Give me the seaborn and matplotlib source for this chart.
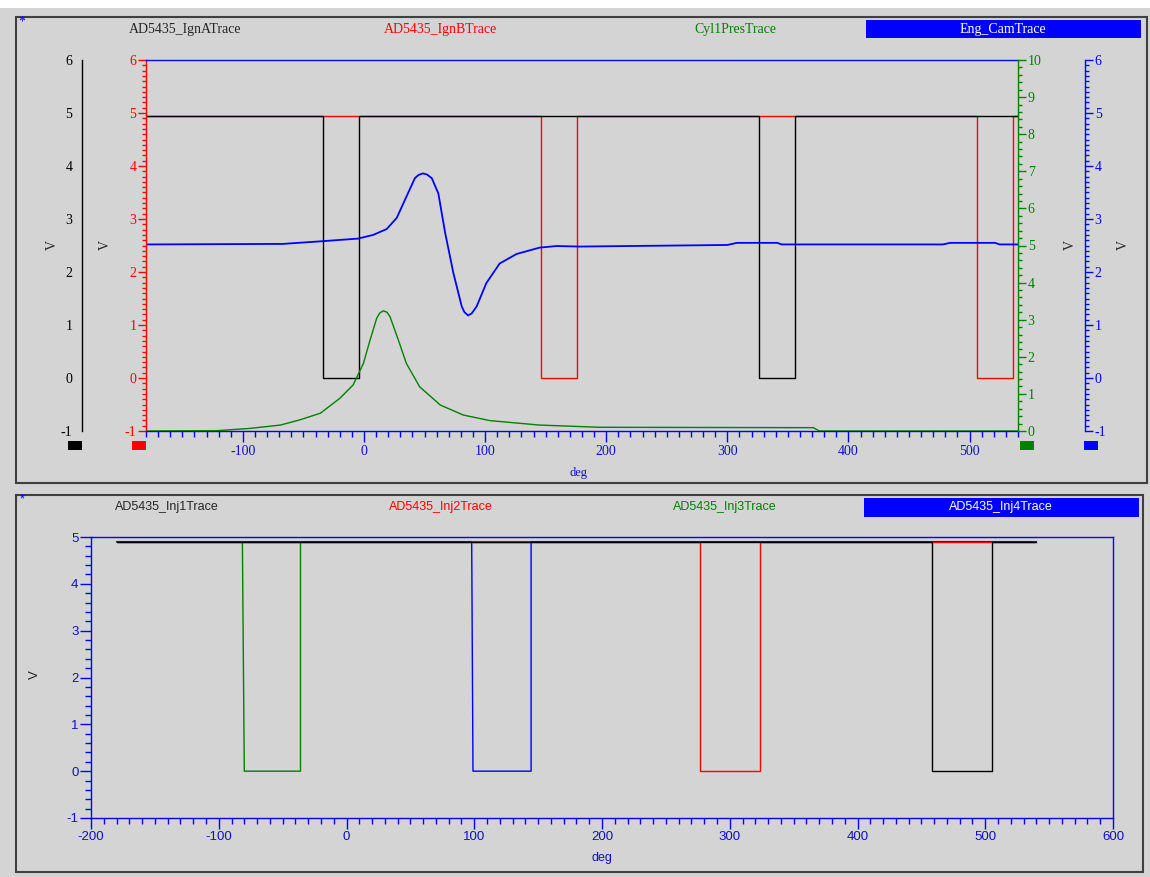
import numpy as np
import matplotlib
matplotlib.use("Agg")
import matplotlib.pyplot as plt
from matplotlib.patches import Rectangle
from matplotlib.ticker import MultipleLocator
import seaborn as sns

BG = '#d4d4d4'
BLUE = '#0000ff'
TXTBLUE = '#1010c8'
RED = '#ff0000'
GREEN = '#008000'

# ---- data ----
# top panel (deg, V)
ign_a_high = 4.94
ign_a_low = [(-34, -4), (326, 356)]          # low pulses of AD5435_IgnATrace
ign_b_high = 4.94
ign_b_low = [(146, 176), (506, 536)]         # low pulses of AD5435_IgnBTrace

cam_deg = [-180, -67, -35, -5, 7.6, 18.7, 27, 35, 42, 45, 48.5, 52, 56, 61.4, 67,
           73.8, 80.7, 83, 86, 89, 93, 101, 112, 126, 145, 159, 178, 300, 308,
           341, 345, 478, 484, 521, 525, 540]
cam_v = [2.52, 2.53, 2.58, 2.63, 2.70, 2.81, 3.02, 3.42, 3.77, 3.83, 3.86, 3.84,
         3.77, 3.48, 2.74, 1.98, 1.35, 1.24, 1.18, 1.22, 1.35, 1.79, 2.16, 2.34,
         2.46, 2.49, 2.48, 2.51, 2.55, 2.55, 2.52, 2.52, 2.55, 2.55, 2.52, 2.52]

pres_deg = [-180, -121, -94, -69, -53, -36, -20, -9, -0.5, 5, 10.5, 13, 16, 19,
            21.5, 28.4, 35, 46, 63, 82, 104, 145, 195, 371, 376, 540]
pres_val = [0.0, 0.01, 0.07, 0.16, 0.30, 0.48, 0.88, 1.24, 1.82, 2.45, 3.04, 3.18,
            3.24, 3.20, 3.08, 2.45, 1.82, 1.19, 0.70, 0.43, 0.28, 0.16, 0.10,
            0.09, 0.0, 0.0]

# bottom panel injector pulses: (fall at top, fall at bottom, rise at bottom, rise at top)
inj_high = 4.90
inj1_low = [(458, 458, 505, 505)]
inj2_low = [(277, 277, 324, 324)]
inj3_low = [(-81.5, -80, -36, -36)]
inj4_low = [(98, 99, 144.5, 144.5)]

top_xticks = [-100, 0, 100, 200, 300, 400, 500]
top_yticks = [-1, 0, 1, 2, 3, 4, 5, 6]
pres_ticks = [0, 1, 2, 3, 4, 5, 6, 7, 8, 9, 10]
bot_xticks = [-200, -100, 0, 100, 200, 300, 400, 500, 600]
bot_yticks = [-1, 0, 1, 2, 3, 4, 5]


def square(lows, hi, start=-180, end=540):
    xs, ys = [start], [hi]
    for p in lows:
        if len(p) == 2:
            p = (p[0], p[0], p[1], p[1])
        xs += [p[0], p[1], p[2], p[3]]
        ys += [hi, 0, 0, hi]
    xs.append(end)
    ys.append(hi)
    return np.array(xs, float), np.array(ys, float)


sns.set_style("white", rc={'axes.facecolor': BG, 'figure.facecolor': BG})
plt.rcParams['font.family'] = ['Liberation Serif', 'DejaVu Sans']

W, H = 1150, 877
fig = plt.figure(figsize=(W / 100, H / 100), dpi=100)


def fx(px):
    return px / W


def fy(py):
    return 1 - py / H


def rect(x0, y0, x1, y1, **kw):
    fig.add_artist(Rectangle((fx(x0), fy(y1)), (x1 - x0) / W, (y1 - y0) / H,
                             transform=fig.transFigure, **kw))


rect(0, 0, W, 8, facecolor='white', edgecolor='none')
rect(16, 17, 1147, 483, fill=False, edgecolor='#404040', lw=1.5)
rect(16, 495, 1143, 872, fill=False, edgecolor='#404040', lw=1.5)

SERIF = 'Liberation Serif'
SANS = 'Liberation Sans'

# ---------------- top panel ----------------
ax = fig.add_axes([fx(146), fy(431), 872 / W, 371 / H])
axg = ax.twinx()

x, y = square(ign_b_low, ign_b_high)
sns.lineplot(x=x, y=y, ax=ax, color=RED, lw=1, estimator=None, sort=False)
x, y = square(ign_a_low, ign_a_high)
sns.lineplot(x=x, y=y, ax=ax, color='black', lw=1, estimator=None, sort=False)
sns.lineplot(x=cam_deg, y=cam_v, ax=ax, color=BLUE, lw=1.3, estimator=None, sort=False)
sns.lineplot(x=pres_deg, y=pres_val, ax=axg, color=GREEN, lw=1, estimator=None, sort=False)

ax.set_xlim(-180, 540)
ax.set_ylim(-1, 6)
axg.set_ylim(0, 10)
ax.set_xlabel('')
ax.set_ylabel('')
axg.set_ylabel('')

ax.set_xticks(top_xticks, [str(t) for t in top_xticks], fontfamily=SERIF)
ax.set_yticks(top_yticks, [str(t) for t in top_yticks], fontfamily=SERIF)
axg.set_yticks(pres_ticks, [str(t) for t in pres_ticks], fontfamily=SERIF)
ax.xaxis.set_minor_locator(MultipleLocator(10))
ax.yaxis.set_minor_locator(MultipleLocator(0.1))
axg.yaxis.set_minor_locator(MultipleLocator(0.2))

for s in ax.spines.values():
    s.set_visible(True)
    s.set_linewidth(1)
for s in axg.spines.values():
    s.set_visible(False)
axg.spines['right'].set_visible(True)
axg.spines['right'].set_color(GREEN)
axg.spines['right'].set_linewidth(1)
ax.spines['top'].set_color(BLUE)
ax.spines['bottom'].set_color(BLUE)
ax.spines['left'].set_color(RED)
ax.spines['right'].set_visible(False)

ax.tick_params(axis='x', which='major', direction='out', length=8, width=1,
               color=BLUE, labelcolor=TXTBLUE, labelsize=10, pad=2, bottom=True, top=False)
ax.tick_params(axis='x', which='minor', direction='out', length=4, width=1,
               color=BLUE, bottom=True, top=False)
ax.tick_params(axis='y', which='major', direction='out', length=6, width=1,
               color=RED, labelcolor=RED, labelsize=10, pad=1, left=True, right=False)
ax.tick_params(axis='y', which='minor', direction='out', length=3, width=1,
               color=RED, left=True, right=False)
axg.tick_params(axis='y', which='major', direction='out', length=6, width=1,
                color=GREEN, labelcolor=GREEN, labelsize=10, pad=1)
axg.tick_params(axis='y', which='minor', direction='out', length=3, width=1, color=GREEN)

# extra scales: far-left black, far-right blue
for pos, col, side in [(82, 'black', 'left'), (1085, BLUE, 'right')]:
    left = pos if side == 'left' else pos - 1
    a = fig.add_axes([fx(left), fy(431), 1 / W, 371 / H])
    a.set_facecolor('none')
    for s in a.spines.values():
        s.set_visible(False)
    a.spines[side].set_visible(True)
    a.spines[side].set_color(col)
    a.spines[side].set_linewidth(1)
    a.set_ylim(-1, 6)
    a.set_xticks([])
    if side == 'right':
        a.yaxis.tick_right()
    a.set_yticks(top_yticks, [str(t) for t in top_yticks], fontfamily=SERIF)
    a.yaxis.set_minor_locator(MultipleLocator(0.1))
    a.tick_params(axis='y', which='major', direction='out', length=6, width=1,
                  color=col, labelcolor=col, labelsize=10, pad=1)
    a.tick_params(axis='y', which='minor', direction='out', length=3, width=1, color=col)

fig.text(fx(578), fy(473), 'deg', color=TXTBLUE, fontsize=9, ha='center', va='center', family=SERIF)
for xp in [52, 105, 1070, 1123]:
    fig.text(fx(xp), fy(245), 'V', rotation=90, fontsize=10, ha='center', va='center', family=SERIF)

for xp, col in [(68, 'black'), (132, RED), (1020, GREEN), (1084, BLUE)]:
    rect(xp, 441, xp + 14, 450, facecolor=col, edgecolor='none')

fig.text(fx(22), fy(22), '*', color=BLUE, fontsize=10, ha='center', va='center', family=SERIF)
fig.text(fx(185), fy(29), 'AD5435_IgnATrace', fontsize=10, ha='center', va='center', family=SERIF)
fig.text(fx(440), fy(29), 'AD5435_IgnBTrace', color=RED, fontsize=10, ha='center', va='center', family=SERIF)
fig.text(fx(735), fy(29), 'Cyl1PresTrace', color=GREEN, fontsize=10, ha='center', va='center', family=SERIF)
rect(866, 20, 1141, 38, facecolor=BLUE, edgecolor='none')
fig.text(fx(1003), fy(29), 'Eng_CamTrace', color='white', fontsize=10, ha='center', va='center', family=SERIF)

# ---------------- bottom panel ----------------
ax2 = fig.add_axes([fx(91), fy(818), 1022 / W, 281 / H])
for lows, col in [(inj3_low, GREEN), (inj4_low, BLUE), (inj2_low, RED), (inj1_low, 'black')]:
    x, y = square(lows, inj_high)
    sns.lineplot(x=x, y=y, ax=ax2, color=col, lw=1, estimator=None, sort=False)

ax2.set_xlim(-200, 600)
ax2.set_ylim(-1, 5)
ax2.set_xlabel('')
ax2.set_ylabel('')
ax2.set_xticks(bot_xticks, [str(t) for t in bot_xticks], fontfamily=SANS)
ax2.set_yticks(bot_yticks, [str(t) for t in bot_yticks], fontfamily=SANS)
ax2.xaxis.set_minor_locator(MultipleLocator(10))
ax2.yaxis.set_minor_locator(MultipleLocator(0.2))
for s in ax2.spines.values():
    s.set_visible(True)
    s.set_color(BLUE)
    s.set_linewidth(1)
ax2.tick_params(axis='both', which='major', direction='out', length=8, width=1,
                color=BLUE, labelcolor=TXTBLUE, labelsize=9.5, pad=1,
                top=False, right=False, bottom=True, left=True)
ax2.tick_params(axis='both', which='minor', direction='out', length=4, width=1,
                color=BLUE, top=False, right=False, bottom=True, left=True)

fig.text(fx(602), fy(858), 'deg', color=TXTBLUE, fontsize=9, ha='center', va='center', family=SANS)
fig.text(fx(35), fy(675), 'V', rotation=90, fontsize=9.5, ha='center', va='center', family=SANS)

fig.text(fx(22), fy(499), '*', color=BLUE, fontsize=9, ha='center', va='center', family=SANS)
fig.text(fx(167), fy(507), 'AD5435_Inj1Trace', fontsize=9, ha='center', va='center', family=SANS)
fig.text(fx(441), fy(507), 'AD5435_Inj2Trace', color=RED, fontsize=9, ha='center', va='center', family=SANS)
fig.text(fx(725), fy(507), 'AD5435_Inj3Trace', color=GREEN, fontsize=9, ha='center', va='center', family=SANS)
rect(864, 498, 1139, 517, facecolor=BLUE, edgecolor='none')
fig.text(fx(1001), fy(507), 'AD5435_Inj4Trace', color='white', fontsize=9, ha='center', va='center', family=SANS)

fig.savefig('out.png', dpi=100, facecolor=BG)
